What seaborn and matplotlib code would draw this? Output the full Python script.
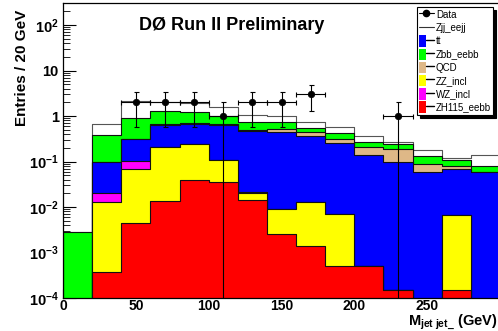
import numpy as np
import matplotlib
matplotlib.use("Agg")
import matplotlib.pyplot as plt
import seaborn as sns
from matplotlib.patches import Patch
from matplotlib.lines import Line2D
from matplotlib.legend_handler import HandlerTuple
from matplotlib.ticker import FixedLocator, LogLocator, MultipleLocator, NullFormatter

# ---------------- data ----------------
bin_edges = [0, 20, 40, 60, 80, 100, 120, 140, 160, 180, 200, 220, 240, 260, 280, 300]
bin_centers = [10, 30, 50, 70, 90, 110, 130, 150, 170, 190, 210, 230, 250, 270, 290]

zh115 = [0, 3.8e-4, 4.4e-3, 0.0135, 0.040, 0.035, 0.014, 2.6e-3, 1.37e-3, 5.1e-4, 5.1e-4, 1.5e-4, 0, 1.5e-4, 0]
zz_incl = [0, 0.0127, 0.0636, 0.196, 0.20, 0.071, 0.0063, 0.0065, 0.0116, 0.0065, 0, 0, 0, 0.00655, 0]
wz_incl = [0, 0.0075, 0.037, 0.004, 0.003, 0.002, 0.001, 0, 0, 0, 0, 0, 0, 0, 0]
ttbar = [0, 0.075, 0.205, 0.426, 0.427, 0.532, 0.454, 0.441, 0.357, 0.243, 0.1385, 0.0958, 0.060, 0.0613, 0.058]
qcd = [0, 0, 0, 0.02, 0.02, 0.02, 0.02, 0.07, 0.07, 0.07, 0.071, 0.094, 0.028, 0.010, 0]
zbb = [0.0028, 0.294, 0.59, 0.61, 0.53, 0.34, 0.235, 0.21, 0.10, 0.10, 0.055, 0.05, 0.042, 0.030, 0.020]
zjj = [0, 0.277, 1.2, 0.78, 0.73, 0.55, 0.32, 0.27, 0.21, 0.14, 0.092, 0.03, 0.05, 0.012, 0.063]

data_x = [50, 70, 90, 110, 130, 150, 170, 230]
data_y = [2, 2, 2, 1, 2, 2, 3, 1]

y_tick_values = [1e-4, 1e-3, 1e-2, 1e-1, 1, 10, 100]
y_tick_labels = [r"$\mathbf{10^{-4}}$", r"$\mathbf{10^{-3}}$", r"$\mathbf{10^{-2}}$",
                 r"$\mathbf{10^{-1}}$", "1", "10", r"$\mathbf{10^{2}}$"]
x_tick_values = [0, 50, 100, 150, 200, 250]
x_tick_labels = ["0", "50", "100", "150", "200", "250"]

# stacking order bottom -> top
layers = [
    ("ZH115_eebb", zh115, "#ff0000"),
    ("ZZ_incl", zz_incl, "#ffff00"),
    ("WZ_incl", wz_incl, "#ff00ff"),
    ("tt", ttbar, "#0000ff"),
    ("QCD", qcd, "#deb887"),
    ("Zbb_eebb", zbb, "#00ff00"),
    ("Zjj_eejj", zjj, "#ffffff"),
]

# ---------------- style ----------------
sns.set_theme(style="ticks")
plt.rcParams["font.family"] = ["Liberation Sans", "DejaVu Sans"]
plt.rcParams["mathtext.fontset"] = "custom"
plt.rcParams["mathtext.rm"] = "Liberation Sans"
plt.rcParams["mathtext.bf"] = "Liberation Sans:bold"
plt.rcParams["mathtext.it"] = "Liberation Sans:italic"
for k in ["text.color", "axes.labelcolor", "xtick.color", "ytick.color", "axes.edgecolor"]:
    plt.rcParams[k] = "black"
plt.rcParams["axes.linewidth"] = 0.9

fig = plt.figure(figsize=(4.98, 3.31), dpi=100)
fig.patch.set_facecolor("white")
ax = fig.add_axes([63 / 498, 33 / 331, 437 / 498, 294.7 / 331])
ax.set_facecolor("white")

cum = np.cumsum(np.array([l[1] for l in layers], dtype=float), axis=0)
for i in reversed(range(len(layers))):
    name, _, col = layers[i]
    sns.histplot(x=bin_centers, weights=cum[i], bins=bin_edges, element="step",
                 fill=True, color=col, alpha=1, edgecolor="#111111" if i < 6 else "#555555",
                 linewidth=0.8, ax=ax)

ax.errorbar(data_x, data_y, xerr=10, yerr=np.sqrt(data_y), fmt="none",
            ecolor="black", elinewidth=0.8, capsize=1.8, capthick=0.8, zorder=4)
sns.scatterplot(x=data_x, y=data_y, color="black", s=22, edgecolor="black",
                linewidth=0.5, zorder=5, ax=ax)

ax.set_yscale("log")
ax.set_ylim(1e-4, 300)
ax.set_xlim(0, 300)
ax.set_xlabel("")
ax.set_ylabel("")
ax.set_axisbelow(True)

ax.yaxis.set_major_locator(FixedLocator(y_tick_values))
ax.set_yticklabels(y_tick_labels, fontsize=10.5, fontweight="bold", color="black")
ax.yaxis.set_minor_locator(LogLocator(base=10, subs=np.arange(2, 10)))
ax.yaxis.set_minor_formatter(NullFormatter())
ax.xaxis.set_major_locator(FixedLocator(x_tick_values))
ax.set_xticklabels(x_tick_labels, fontsize=10, fontweight="bold", color="black")
ax.xaxis.set_minor_locator(MultipleLocator(10))

ax.tick_params(axis="y", which="major", direction="in", length=9.4, width=0.8, pad=3, colors="black")
ax.tick_params(axis="y", which="minor", direction="in", length=4.7, width=0.6, colors="black")
ax.tick_params(axis="x", which="major", direction="in", length=6.5, width=0.8, pad=0.5, colors="black")
ax.tick_params(axis="x", which="minor", direction="in", length=3.2, width=0.6, colors="black")
for s in ax.spines.values():
    s.set_color("black")
    s.set_linewidth(0.9)

# ---------------- texts ----------------
fig.text(232 / 498, 1 - 25 / 331, "DØ Run II Preliminary", ha="center", va="center",
         fontsize=13, fontweight="bold", color="black")
fig.text(22 / 498, 1 - 10 / 331, "Entries / 20 GeV", rotation=90, ha="center", va="top",
         fontsize=11, fontweight="bold", color="black")
fig.text(497 / 498, 1 - 325.5 / 331, r"$\mathbf{M_{jet\ jet\_}}$ (GeV)", ha="right",
         va="baseline", fontsize=10.5, fontweight="bold", color="black")

# ---------------- legend ----------------
handles = [Line2D([], [], color="black", marker="o", markersize=4.5, lw=0.8),
           Line2D([], [], color="#333333", lw=0.8)]
labels = ["Data", "Zjj_eejj"]
for name, col in [("tt", "#0000ff"), ("Zbb_eebb", "#00ff00"), ("QCD", "#deb887"),
                  ("ZZ_incl", "#ffff00"), ("WZ_incl", "#ff00ff"), ("ZH115_eebb", "#ff0000")]:
    handles.append((Patch(facecolor=col, edgecolor="none"), Line2D([], [], color="black", lw=1.0)))
    labels.append(name)

leg = ax.legend(handles, labels, loc="upper right", bbox_to_anchor=(0.984, 0.9874),
                borderaxespad=0, fontsize=7, frameon=True, fancybox=False,
                shadow={"color": "black", "alpha": 1}, handlelength=1.45, handleheight=1.45,
                labelspacing=0.17, handletextpad=0.25, borderpad=0.2,
                handler_map={tuple: HandlerTuple(ndivide=None, pad=0)})
leg.get_frame().set_edgecolor("black")
leg.get_frame().set_linewidth(0.8)
leg.get_frame().set_facecolor("white")
leg.get_frame().set_alpha(1)
for t in leg.get_texts():
    t.set_color("black")

fig.savefig("out.png", dpi=100, facecolor="white")
